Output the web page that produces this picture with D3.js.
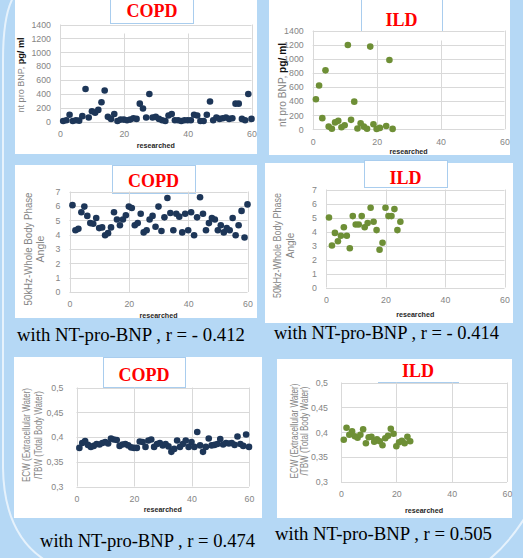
<!DOCTYPE html>
<html><head><meta charset="utf-8">
<script src="https://cdn.jsdelivr.net/npm/d3@7/dist/d3.min.js"></script>
<style>body{margin:0;background:#b5d8f5;} svg{display:block}</style>
</head><body>
<svg id="c" width="523" height="558"></svg>
<script>
// ---------- DATA ----------
const copdIdx = [1,2,3,4,5,6,7,8,9,10,11,12,13,14,15,16,17,18,19,20,21,22,23,24,25,26,27,28,29,30,31,32,33,34,35,36,37,38,39,40,41,42,43,44,45,46,47,48,49,50,51,52,53,54,55,56,57,58,59,60];
const ildIdx = [1,2,3,4,5,6,7,8,9,10,11,12,13,14,15,16,17,18,19,20,21,22,23,24,25];
const ildBnpIdx = [1,2,3,4,5,6,7,8,9,10,11,12,13,14,15,16,17,18,19,20,21,23,24,25];

const copdBnp = [10,20,100,10,20,15,80,470,60,150,130,170,280,450,70,40,110,10,30,30,20,30,50,40,260,190,60,400,60,70,40,20,10,90,110,20,20,10,20,20,20,100,90,10,10,100,290,20,60,40,50,60,40,50,260,260,40,20,400,40];
const ildBnp = [425,620,158,835,38,8,98,120,28,58,1195,134,392,12,86,38,8,1172,72,4,20,46,982,6];

const copdPhase = [6.05,4.3,4.4,5.55,5.95,5.3,4.8,4.75,5.15,4.45,4.5,3.95,4.1,4.5,5.55,5.05,4.65,5.05,5.35,5.95,5.85,4.65,4.8,5.45,4.15,4.3,5.05,5.3,4.55,5.95,4.25,5.2,6.55,5.5,4.3,5.45,5.25,4.15,5.45,4.3,5.55,3.95,5.2,6.6,5.45,4.3,4.8,5.15,5.05,4.3,4.65,4.15,4.45,4.3,5.15,3.95,4.65,5.65,3.8,6.1];
const ildPhase = [5.0,3.0,3.9,3.3,3.7,4.3,3.7,2.8,5.1,4.5,4.5,5.1,4.3,4.6,5.7,4.7,4.1,2.7,3.2,5.7,5.1,5.1,5.6,4.1,4.7];

const copdEcw = [0.378,0.388,0.392,0.384,0.380,0.382,0.386,0.385,0.388,0.390,0.387,0.397,0.395,0.394,0.382,0.385,0.386,0.383,0.379,0.378,0.378,0.391,0.390,0.380,0.393,0.395,0.380,0.386,0.388,0.383,0.386,0.381,0.370,0.376,0.393,0.380,0.386,0.393,0.380,0.390,0.380,0.410,0.383,0.370,0.380,0.397,0.383,0.384,0.386,0.396,0.385,0.388,0.387,0.388,0.384,0.401,0.386,0.382,0.405,0.380];
const ildEcw = [0.385,0.409,0.395,0.402,0.392,0.389,0.395,0.406,0.378,0.390,0.391,0.381,0.386,0.382,0.374,0.388,0.393,0.407,0.397,0.372,0.380,0.383,0.378,0.391,0.382];

const xTicks = [0,20,40,60];
const bnpTicks = [0,200,400,600,800,1000,1200,1400];
const phaseTicks = [0,1,2,3,4,5,6,7];
const ecwTicks = [0.3,0.35,0.4,0.45,0.5];
const ecwTickLabels = ["0,3","0,35","0,4","0,45","0,5"];
const titles = ["COPD","ILD","COPD","ILD","COPD","ILD"];
const captions = ["with NT-pro-BNP , r = - 0.412","with NT-pro-BNP , r = - 0.414","with NT-pro-BNP , r = 0.474","with NT-pro-BNP , r = 0.505"];
const xTitle = "researched";
const bnpTitle = ["nt pro BNP,  ","pg/ ml"];
const phaseTitle = ["50kHz-Whole Body Phase","Angle"];
const ecwTitle = ["ECW (Extracellular Water)","/TBW (Total Body Water)"];

// ---------- DRAW ----------
const svg = d3.select("#c");
const COPD_C = "#1d3658", ILD_C = "#6e8f36";

// decorative outline curves
svg.append("path").attr("d","M14,-4 Q3,14 3,60 L3,468 Q4,536 48,562")
  .attr("fill","none").attr("stroke","#e6f2fc").attr("stroke-width",2);
svg.append("path").attr("d","M486,562 Q508,545 526,516")
  .attr("fill","none").attr("stroke","#e6f2fc").attr("stroke-width",2);

// white boxes
const boxes = [[15,-1,257,154],[269,-1,510,155],[15,165,257,318],[265,163,513,323],[14,357,262,518],[277,359,512,518]];
svg.selectAll("rect.box").data(boxes).join("rect").attr("class","box")
  .attr("x",d=>d[0]).attr("y",d=>d[1]).attr("width",d=>d[2]-d[0]).attr("height",d=>d[3]-d[1])
  .attr("fill","#fff");

const panels = [
 {xs:copdIdx, ys:copdBnp, color:COPD_C, dom:[0,1400], ticks:bnpTicks, fmt:d=>d, x0:60, x1:251.5, y0:121.7, y1:24.5, vGap:9, ylPad:9,
  title:titles[0], tb:[110,-1,193,23], tx:152, ty:17,
  yt:bnpTitle, ytX:[23.5], ytY:75, ytLen:[75], ytFs:9.5, bnp:true, xtY:147.5},
 {xs:ildBnpIdx, ys:ildBnp, color:ILD_C, dom:[0,1400], ticks:bnpTicks, fmt:d=>d, x0:312.7, x1:504.5, y0:129.3, y1:30.5, vGap:10, ylPad:9,
  title:titles[1], tb:[361,-1,442,31], tx:401.5, ty:25.5,
  yt:bnpTitle, ytX:[285.5], ytY:85, ytLen:[84], ytFs:10.5, bnp:true, xtY:153.5},
 {xs:copdIdx, ys:copdPhase, color:COPD_C, dom:[0,7], ticks:phaseTicks, fmt:d=>d, x0:69.5, x1:247.5, y0:292, y1:191.5, vGap:0, ylPad:9,
  title:titles[2], tb:[112,165,195,193], tx:153.5, ty:187,
  yt:phaseTitle, ytX:[31.5,43.5], ytY:249, ytLen:[113,null], ytFs:10.5, xtY:317.5},
 {xs:ildIdx, ys:ildPhase, color:ILD_C, dom:[0,7], ticks:phaseTicks, fmt:d=>d, x0:326, x1:504.5, y0:287.5, y1:189.5, vGap:0, ylPad:9,
  title:titles[3], tb:[364,160,447,187], tx:405.5, ty:184,
  yt:phaseTitle, ytX:[280.5,293.5], ytY:245.5, ytLen:[105,null], ytFs:10, xtY:316.5},
 {xs:copdIdx, ys:copdEcw, color:COPD_C, dom:[0.3,0.5], ticks:ecwTicks, fmt:(d,i)=>ecwTickLabels[i], x0:76.5, x1:249, y0:486.5, y1:387.5, vGap:0, ylPad:13,
  title:titles[4], tb:[103,357,185,387], tx:144, ty:381,
  yt:ecwTitle, ytX:[30,41.5], ytY:435, ytLen:[94,88], ytFs:10, xtY:511.5},
 {xs:ildIdx, ys:ildEcw, color:ILD_C, dom:[0.3,0.5], ticks:ecwTicks, fmt:(d,i)=>ecwTickLabels[i], x0:341, x1:507, y0:482, y1:382.5, vGap:0, ylPad:13,
  title:titles[5], tb:null, tx:418, ty:377,
  yt:ecwTitle, ytX:[297.5,308], ytY:431, ytLen:[95,89], ytFs:10, xtY:512.5}
];

panels.forEach((p,pi)=>{
  const g = svg.append("g");
  const x = d3.scaleLinear().domain([0,60]).range([p.x0,p.x1]);
  const y = d3.scaleLinear().domain(p.dom).range([p.y0,p.y1]);
  // title box
  if(p.tb){
    g.append("rect").attr("x",p.tb[0]+0.5).attr("y",p.tb[1]+0.5).attr("width",p.tb[2]-p.tb[0]).attr("height",p.tb[3]-p.tb[1])
      .attr("fill","#fff").attr("stroke","#a9cdee").attr("stroke-width",1);
  } else {
    g.append("line").attr("x1",378).attr("x2",459).attr("y1",382.5).attr("y2",382.5).attr("stroke","#a9cdee");
  }
  g.append("text").attr("x",p.tx).attr("y",p.ty).attr("text-anchor","middle")
    .attr("font-family","'Liberation Serif','Times New Roman',serif").attr("font-weight","bold")
    .attr("font-size",18).attr("fill","#ff0000").text(p.title);
  // gridlines
  g.selectAll("line.h").data(p.ticks).join("line")
    .attr("x1",p.x0).attr("x2",p.x1).attr("y1",d=>Math.round(y(d))+0.5).attr("y2",d=>Math.round(y(d))+0.5)
    .attr("stroke","#d9d9d9");
  g.selectAll("line.v").data(xTicks).join("line")
    .attr("x1",d=>Math.round(x(d))+0.5).attr("x2",d=>Math.round(x(d))+0.5)
    .attr("y1",d=>(d===0||d===60)?p.y1:p.y1+p.vGap).attr("y2",p.y0)
    .attr("stroke","#d9d9d9");
  // axes
  const ya = g.append("g").attr("transform",`translate(${p.x0},0)`)
    .call(d3.axisLeft(y).tickValues(p.ticks).tickSize(0).tickPadding(p.ylPad).tickFormat(p.fmt));
  const xa = g.append("g").attr("transform",`translate(0,${p.y0})`)
    .call(d3.axisBottom(x).tickValues(xTicks).tickSize(0).tickPadding(9).tickFormat(d=>d));
  [ya,xa].forEach(a=>{
    a.select(".domain").remove();
    a.selectAll("text").attr("font-family","'Liberation Sans',Arial,sans-serif").attr("font-size",8.8).attr("fill","#858585");
  });
  // dots
  g.selectAll("circle").data(p.ys).join("circle")
    .attr("cx",(d,i)=>x(p.xs[i])).attr("cy",d=>y(d)).attr("r",3.3).attr("fill",p.color);
  // x title
  g.append("text").attr("x",(p.x0+p.x1)/2).attr("y",p.xtY).attr("text-anchor","middle")
    .attr("font-family","'Liberation Sans',Arial,sans-serif").attr("font-weight","bold").attr("font-size",8)
    .attr("textLength",38).attr("lengthAdjust","spacingAndGlyphs")
    .attr("fill","#262626").text(xTitle);
  // y title
  if(p.bnp){
    const t = g.append("text").attr("transform",`translate(${p.ytX[0]},${p.ytY}) rotate(-90)`)
      .attr("text-anchor","middle").attr("font-family","'Liberation Sans',Arial,sans-serif")
      .attr("font-size",p.ytFs).attr("textLength",p.ytLen[0]).attr("lengthAdjust","spacingAndGlyphs");
    t.append("tspan").attr("fill","#858585").text(p.yt[0]);
    t.append("tspan").attr("fill","#111").attr("font-weight","bold").text(p.yt[1]);
  } else {
    p.yt.forEach((s,k)=>{
      const t = g.append("text").attr("transform",`translate(${p.ytX[k]},${p.ytY}) rotate(-90)`)
        .attr("text-anchor","middle").attr("font-family","'Liberation Sans',Arial,sans-serif")
        .attr("font-size",p.ytFs).attr("fill","#858585").text(s);
      if(p.ytLen[k]) t.attr("textLength",p.ytLen[k]).attr("lengthAdjust","spacingAndGlyphs");
    });
  }
});

// captions
const capPos = [[17,341,228],[274,339,225],[40,547,215],[275,540,217]];
capPos.forEach((c,i)=>{
  svg.append("text").attr("x",c[0]).attr("y",c[1]).attr("textLength",c[2]).attr("lengthAdjust","spacingAndGlyphs")
    .attr("font-family","'Liberation Serif','Times New Roman',serif").attr("font-size",18.5)
    .attr("fill","#000").text(captions[i]);
});
</script>
</body></html>
